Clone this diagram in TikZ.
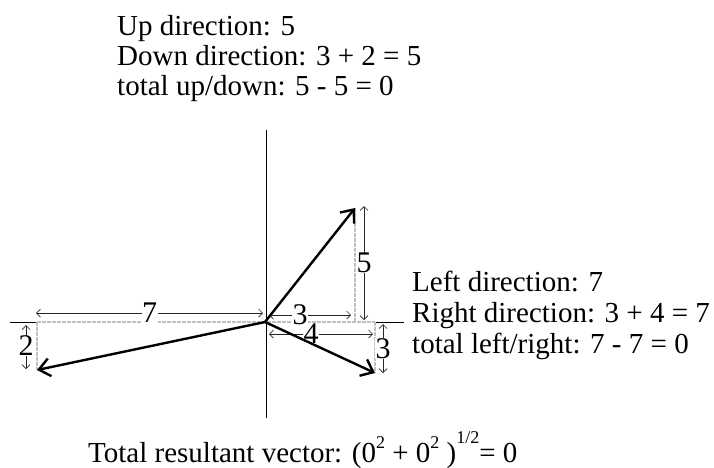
\documentclass[tikz,border=0pt]{standalone}
\usepackage{fontspec}
\setmainfont{Liberation Serif}
\usetikzlibrary{arrows.meta}
\newcommand{\supr}[2]{\raisebox{#1}{\fontsize{18}{18}\selectfont #2}}
\begin{document}
\begin{tikzpicture}[x=1pt,y=-1pt,
  txt/.style={anchor=base west,inner sep=0pt,font=\fontsize{29}{30}\selectfont,text=black},
  dimlbl/.style={fill=white,inner sep=0.5pt,font=\fontsize{30}{30}\selectfont,text=black},
  vec/.style={line width=2.4pt,black,-{Straight Barb[length=11pt,width=18pt,line width=2.4pt]}},
  dim/.style={line width=0.7pt,black!85,{Straight Barb[length=4pt,width=8pt]}-{Straight Barb[length=4pt,width=8pt]}},
  comp/.style={line width=2pt,gray!50,dash pattern=on 4pt off 1pt},
  axis/.style={line width=1pt,black}]
\useasboundingbox (0,0) rectangle (714,467);
% coordinates
\coordinate (O) at (265,322);
\coordinate (A) at (355,208);
\coordinate (B) at (375,373);
\coordinate (C) at (37,370);
\coordinate (Ax) at (355,322);
\coordinate (Bx) at (375,322);
\coordinate (Cx) at (37,322);
\coordinate (axL) at (10,322);
\coordinate (axR) at (404,322);
\coordinate (axT) at (266,130);
\coordinate (axB) at (266,418);
% axes
\draw[axis] (axT) -- (axB);
\draw[axis] (axL) -- (Cx);
\draw[axis] (Bx) -- (axR);
% components
\draw[comp] (Cx) -- (Bx);
\draw[comp] (A) -- (Ax);
\draw[comp] (Bx) -- (B);
\draw[comp] (Cx) -- (C);
% dimension lines
\coordinate (d7a) at (36,313); \coordinate (d7b) at (263,313);
\coordinate (d3a) at (269,315); \coordinate (d3b) at (351,315);
\coordinate (d4a) at (269,334); \coordinate (d4b) at (373,334);
\coordinate (d5a) at (364,206); \coordinate (d5b) at (364,320);
\coordinate (dr3a) at (383,324); \coordinate (dr3b) at (383,373);
\coordinate (d2a) at (26,325); \coordinate (d2b) at (26,369);
\draw[dim] (d7a) -- node[dimlbl]{7} (d7b);
\draw[dim] (d3a) -- node[dimlbl,xshift=-10pt]{3} (d3b);
\draw[dim] (d4a) -- node[dimlbl,xshift=-10pt]{4} (d4b);
\draw[dim] (d5a) -- node[dimlbl]{5} (d5b);
\draw[dim] (dr3a) -- node[dimlbl]{3} (dr3b);
\draw[dim] (d2a) -- node[dimlbl,yshift=1pt]{2} (d2b);
% vectors
\draw[vec] (O) -- (A);
\draw[vec] (O) -- (B);
\draw[vec] (O) -- (C);
% texts
\node[txt] (t1) at (117,35) {Up direction: 5};
\node[txt] (t2) at (117,65) {Down direction: 3 + 2 = 5};
\node[txt] (t3) at (117,95) {total up/down: 5 - 5 = 0};
\node[txt] (r1) at (412,291) {Left direction: 7};
\node[txt] (r2) at (412,322) {Right direction: 3 + 4 = 7};
\node[txt] (r3) at (412,353) {total left/right: 7 - 7 = 0};
\node[txt] (bt) at (88,462) {Total resultant vector: (0\supr{14pt}{2} + 0\supr{14pt}{2} )\supr{19pt}{1/2}= 0};
\end{tikzpicture}
\end{document}
